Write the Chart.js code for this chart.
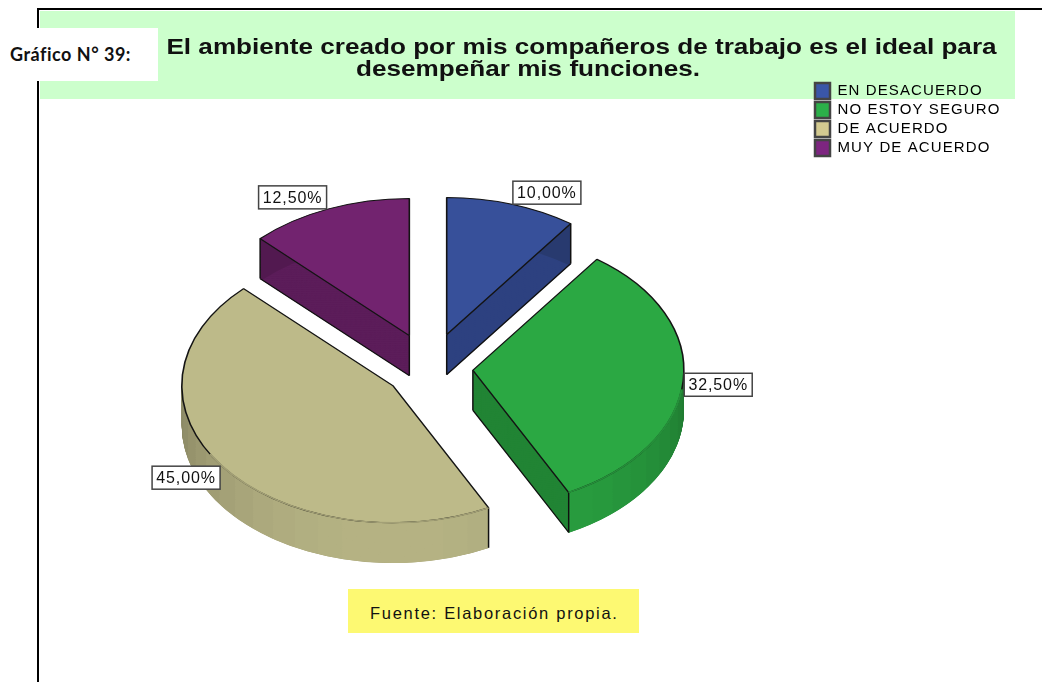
<!DOCTYPE html>
<html>
<head>
<meta charset="utf-8">
<script src="https://cdn.jsdelivr.net/npm/chart.js@4/dist/chart.umd.min.js"></script>
<style>
html,body{margin:0;padding:0;background:#fff;width:1042px;height:682px;overflow:hidden}
.abs{position:absolute}
#topline{left:37px;top:8px;width:1005px;height:2px;background:#000}
#leftline{left:37px;top:8px;width:2px;height:674px;background:#000}
#band{left:40px;top:11px;width:975px;height:88px;background:#ccffcc}
#tag{left:0;top:28px;width:158px;height:53px;background:#fff;font:bold 18px Lato,sans-serif;letter-spacing:.5px;color:#111;line-height:53px;text-indent:10px;white-space:nowrap}
#source{left:348px;top:589px;width:291px;height:44px;background:#fdf972;font:16.5px "Liberation Sans",sans-serif;letter-spacing:1.7px;color:#111;line-height:48px;text-indent:22px;white-space:nowrap}
#wrap{left:0;top:0;width:1042px;height:682px}
</style>
</head>
<body>
<div class="abs" id="topline"></div>
<div class="abs" id="leftline"></div>
<div class="abs" id="band"></div>
<div class="abs" id="wrap"><canvas id="c" width="1042" height="682"></canvas></div>
<div class="abs" id="tag">Gráfico N° 39:</div>
<div class="abs" id="source">Fuente: Elaboración propia.</div>
<script>
const titleLine = "El ambiente creado por mis compañeros de trabajo es el ideal para";
const subtitleLine = "desempeñar mis funciones.";
const categories = ["EN DESACUERDO", "NO ESTOY SEGURO", "DE ACUERDO", "MUY DE ACUERDO"];
const percentages = [10.0, 32.5, 45.0, 12.5];
const topColors = ["#37509a", "#2ba843", "#bdba89", "#72236f"];
const wallColors = ["#2d4180", "#218434", "#a5a278", "#5c1d5a"];
const legendColors = ["#3a56a8", "#2cb04a", "#d3ca90", "#7d2580"];
const explode = [54, 43, 46, 54];

const pieCX = 430, pieCY = 368, squash = 0.65, pieRadius = 211, depth = 40;
const drawOrder = [3, 0, 2, 1];
const textStretch = 1.187;

function shade(hex, f) {
  const n = parseInt(hex.slice(1), 16);
  return "rgb(" + [n >> 16 & 255, n >> 8 & 255, n & 255].map(v => Math.round(v * f)).join(",") + ")";
}
function rimGradient(ctx, arc, hex) {
  const g = ctx.createConicGradient(0, arc.x, arc.y);
  const n = 52;
  for (let k = 0; k < n; k++) {
    const mid = (k + 0.5) / n * Math.PI * 2;
    const f = 0.72 + 0.24 * Math.max(0, Math.sin(mid));
    const c = shade(hex, f);
    g.addColorStop(k / n, c);
    g.addColorStop((k + 1) / n, c);
  }
  return g;
}
function squashIn(ctx) {
  ctx.translate(0, pieCY);
  ctx.scale(1, squash);
  ctx.translate(0, -pieCY);
}
function placeStretched(box, cx, top, height) {
  box.left = cx - 420; box.right = cx + 420; box.top = top; box.bottom = top + height;
  if (box.__wrapped) return;
  box.__wrapped = true;
  const orig = box.draw;
  box.draw = function () {
    const ctx = this.ctx;
    ctx.save();
    ctx.translate(cx, 0); ctx.scale(textStretch, 1); ctx.translate(-cx, 0);
    orig.apply(this, arguments);
    ctx.restore();
  };
}
const pie3d = {
  id: "pie3d",
  afterLayout(chart) {
    placeStretched(chart.titleBlock, 581.5, 37, 22);
    const sub = chart.boxes.find(b => b !== chart.titleBlock && b.options && b.options.text === subtitleLine);
    placeStretched(sub, 528, 59, 22);
    const l = chart.legend;
    l.left = 812; l.right = 1040; l.top = 80; l.bottom = 170;
    if (!l.__wrapped) {
      l.__wrapped = true;
      const orig = l.draw;
      l.draw = function () {
        const ctx = this.ctx;
        ctx.save();
        ctx.letterSpacing = "1.1px";
        orig.apply(this, arguments);
        ctx.restore();
      };
    }
  },
  afterDatasetsUpdate(chart) {
    chart.getDatasetMeta(0).data.forEach((a, i) => {
      const mid = (a.startAngle + a.endAngle) / 2;
      a.x = pieCX + Math.cos(mid) * explode[i];
      a.y = pieCY + Math.sin(mid) * explode[i];
    });
  },
  beforeDatasetsDraw(chart) {
    const ctx = chart.ctx, arcs = chart.getDatasetMeta(0).data;
    const dz = depth / squash;
    ctx.save();
    squashIn(ctx);
    drawOrder.forEach(i => {
      const a = arcs[i], saved = a.options;
      a.options = Object.assign({}, saved, { backgroundColor: wallColors[i], borderWidth: 0 });
      for (let d = Math.round(dz); d > 0; d -= 1) {
        ctx.save(); ctx.translate(0, d); a.draw(ctx); ctx.restore();
      }
      a.options = saved;
      const R = a.outerRadius;
      ctx.lineWidth = 2.5;
      for (let d = Math.round(dz); d > 0; d -= 1) {
        ctx.save();
        ctx.translate(0, d);
        ctx.strokeStyle = rimGradient(ctx, a, topColors[i]);
        ctx.beginPath();
        ctx.arc(a.x, a.y, R - 1.2, a.startAngle, a.endAngle);
        ctx.stroke();
        ctx.restore();
      }
      // black edges of the visible cut walls
      ctx.save();
      ctx.strokeStyle = "#101010";
      ctx.lineWidth = 1.5;
      const seg = (x1, y1, x2, y2) => { ctx.beginPath(); ctx.moveTo(x1, y1); ctx.lineTo(x2, y2); ctx.stroke(); };
      [a.startAngle, a.endAngle].forEach((ang, e) => {
        const px = a.x + R * Math.cos(ang), py = a.y + R * Math.sin(ang);
        const visible = e === 0 ? Math.cos(ang) < -1e-6 : Math.cos(ang) > 1e-6;
        if (visible) {
          seg(a.x, a.y, a.x, a.y + dz);
          seg(a.x, a.y + dz, px, py + dz);
        }
        if (visible || Math.sin(ang) > 0) seg(px, py, px, py + dz);
      });
      ctx.restore();
    });
  },
  afterDatasetsDraw(chart) {
    const ctx = chart.ctx, arcs = chart.getDatasetMeta(0).data;
    // soften the front edge of the top faces
    arcs.forEach((a, i) => {
      const lo = Math.max(a.startAngle, 8 * Math.PI / 180);
      const hi = Math.min(a.endAngle, 150 * Math.PI / 180);
      if (hi > lo) {
        ctx.strokeStyle = shade(topColors[i], 0.86);
        ctx.lineWidth = 2.2;
        ctx.beginPath();
        ctx.arc(a.x, a.y, a.outerRadius, lo, hi);
        ctx.stroke();
      }
    });
    ctx.restore();
    // value labels
    ctx.save();
    ctx.font = '16px "Liberation Sans", sans-serif';
    ctx.letterSpacing = "0.9px";
    ctx.textBaseline = "middle";
    ctx.textAlign = "center";
    const clamp = v => Math.max(-1, Math.min(1, v));
    arcs.forEach((a, i) => {
      const mid = (a.startAngle + a.endAngle) / 2;
      const sx = a.x + a.outerRadius * Math.cos(mid);
      const sy = pieCY + (a.y + a.outerRadius * Math.sin(mid) - pieCY) * squash;
      const txt = percentages[i].toFixed(2).replace(".", ",") + "%";
      const w = 68, h = 23;
      const bx = sx - w / 2 + w / 2 * clamp(Math.cos(mid) * 4) + (Math.cos(mid) > 0 ? 1 : -2);
      const by = sy - h / 2 + h / 2 * clamp(Math.sin(mid) * 2) + (Math.abs(Math.sin(mid)) < 0.3 ? 2 : 0);
      ctx.fillStyle = "#fff";
      ctx.strokeStyle = "#444";
      ctx.lineWidth = 1.5;
      ctx.fillRect(bx, by, w, h);
      ctx.strokeRect(bx, by, w, h);
      ctx.fillStyle = "#111";
      ctx.fillText(txt, bx + w / 2, by + h / 2 + 1);
    });
    ctx.restore();
  }
};
new Chart(document.getElementById("c"), {
  type: "pie",
  data: {
    labels: categories,
    datasets: [{
      data: percentages,
      backgroundColor: topColors,
      borderColor: "#141414",
      borderWidth: 1.6,
      clip: false
    }]
  },
  options: {
    responsive: false,
    animation: false,
    events: [],
    radius: pieRadius,
    plugins: {
      tooltip: { enabled: false },
      title: {
        display: true,
        text: titleLine,
        color: "#111",
        padding: 0,
        font: { family: '"Liberation Sans", sans-serif', size: 22, weight: "bold", lineHeight: 1 }
      },
      subtitle: {
        display: true,
        text: subtitleLine,
        color: "#111",
        padding: 0,
        font: { family: '"Liberation Sans", sans-serif', size: 22, weight: "bold", lineHeight: 1 }
      },
      legend: {
        position: "chartArea",
        align: "start",
        padding: 0,
        labels: {
          boxWidth: 15,
          boxHeight: 16,
          padding: 3,
          color: "#222",
          font: { family: '"Liberation Sans", sans-serif', size: 15 },
          generateLabels: () => categories.map((t, i) => ({
            text: t, fillStyle: legendColors[i], strokeStyle: "#444", lineWidth: 2.5, index: i
          }))
        }
      }
    }
  },
  plugins: [pie3d]
});
</script>
</body>
</html>
